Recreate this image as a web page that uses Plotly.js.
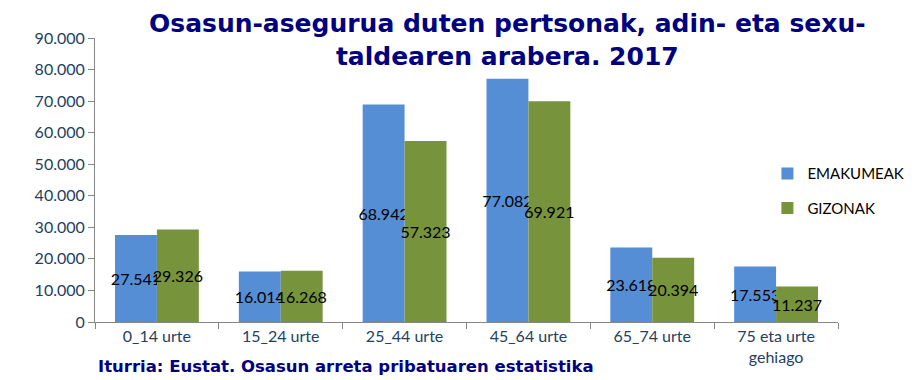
<!DOCTYPE html>
<html><head><meta charset="utf-8">
<script src="https://cdn.plot.ly/plotly-3.0.1.min.js"></script>
<style>body{margin:0;padding:0;background:#fff}#chart{width:921px;height:380px}</style>
</head><body><div id="chart"></div>
<script>
var categories = ["0_14 urte", "15_24 urte", "25_44 urte", "45_64 urte", "65_74 urte", "75 eta urte<br>gehiago"];
var emakumeak = [27541, 16014, 68942, 77082, 23618, 17553];
var gizonak = [29326, 16268, 57323, 69921, 20394, 11237];
var seriesNames = ["EMAKUMEAK", "GIZONAK"];
var yTicks = [0, 10000, 20000, 30000, 40000, 50000, 60000, 70000, 80000, 90000];

var labelFont = {family: "Lato, 'Open Sans', sans-serif", size: 16, color: "#000000"};
function mk(name, vals, color, grp) {
  return {
    type: "bar", name: name, x: categories, y: vals,
    marker: {color: color},
    texttemplate: "%{y:,d}", textposition: "inside", insidetextanchor: "middle", textangle: 0,
    constraintext: "none", textfont: labelFont, insidetextfont: labelFont, cliponaxis: false,
    legendgroup: grp, hoverinfo: "none"
  };
}
var data = [mk(seriesNames[0], emakumeak, "#558ED5", "a"), mk(seriesNames[1], gizonak, "#77933C", "b")];

var tickFont = {family: "Lato, 'Open Sans', sans-serif", size: 16, color: "#243F60"};
var layout = {
  width: 921, height: 380,
  separators: ",.",
  margin: {l: 95, r: 83, t: 38, b: 58, autoexpand: false},
  paper_bgcolor: "#fff", plot_bgcolor: "#fff",
  bargap: 0.323, bargroupgap: 0,
  showlegend: true,
  legend: {x: 0.905, y: 0.58, xanchor: "left", yanchor: "top", font: {family: "Lato, 'Open Sans', sans-serif", size: 15, color: "#000"}, traceorder: "grouped", tracegroupgap: 12, bgcolor: "rgba(0,0,0,0)"},
  xaxis: {type: "category", showline: true, linecolor: "#868686", linewidth: 1, ticks: "outside", tickson: "boundaries", ticklen: 6, tickcolor: "#868686", tickfont: tickFont, showgrid: false, zeroline: false},
  yaxis: {range: [0, 90000], tickvals: yTicks, tickformat: ",d", showline: true, linecolor: "#868686", linewidth: 1, ticks: "outside", ticklen: 6, tickcolor: "#868686", tickfont: tickFont, showgrid: false, zeroline: false},
  annotations: [
    {text: "<b>Osasun-asegurua duten pertsonak, adin- eta sexu-<br>taldearen arabera. 2017</b>", xref: "paper", yref: "paper", x: (507-95)/743, y: 1 + (38-7)/284, xanchor: "center", yanchor: "top", showarrow: false, align: "center", font: {family: "'DejaVu Sans', Verdana, sans-serif", size: 25, color: "#000080"}},
    {text: "<b>Iturria: Eustat. Osasun arreta pribatuaren estatistika</b>", xref: "paper", yref: "paper", x: 0.002, y: -0.155, xanchor: "left", yanchor: "middle", showarrow: false, font: {family: "'DejaVu Sans', Verdana, sans-serif", size: 16.5, color: "#000080"}}
  ]
};
Plotly.newPlot("chart", data, layout, {displayModeBar: false, staticPlot: true});
</script></body></html>
